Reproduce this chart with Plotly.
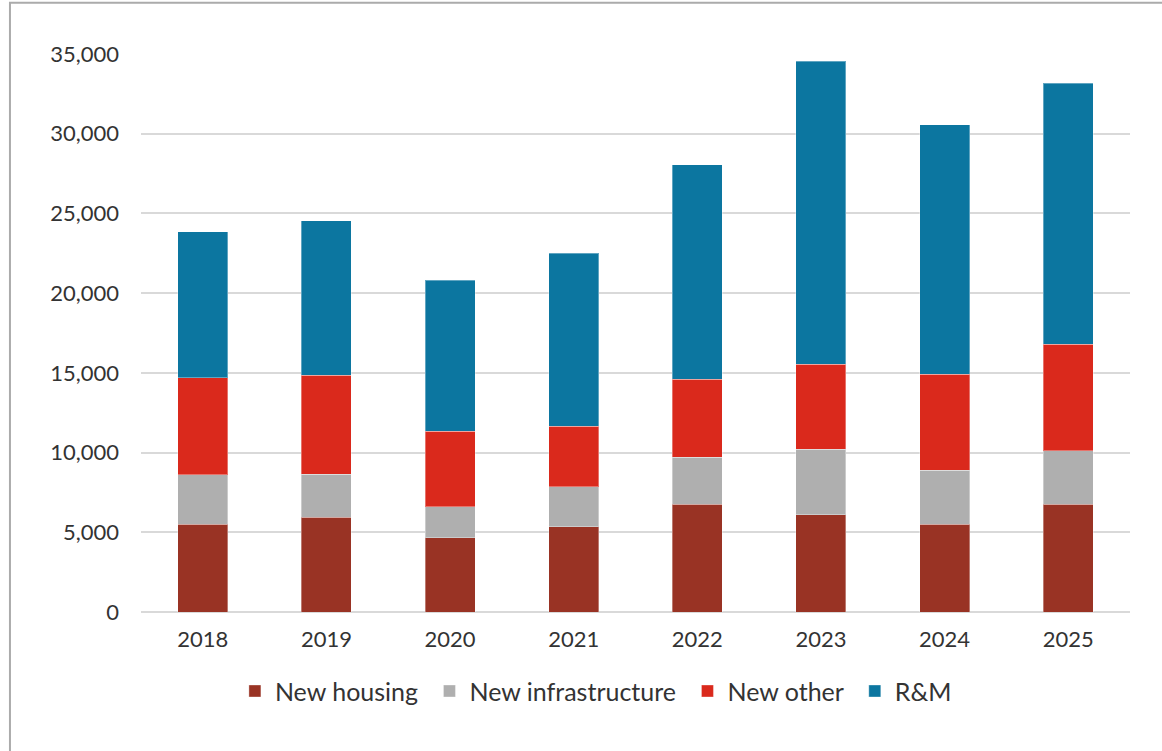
import plotly.graph_objects as go

years = ["2018", "2019", "2020", "2021", "2022", "2023", "2024", "2025"]
new_housing = [5500, 5950, 4650, 5350, 6750, 6100, 5500, 6750]
new_infrastructure = [3100, 2700, 1950, 2500, 2950, 4100, 3400, 3350]
new_other = [6100, 6200, 4750, 3800, 4900, 5350, 6000, 6700]
rm = [9150, 9700, 9450, 10850, 13450, 19000, 15650, 16350]

y_ticks = [0, 5000, 10000, 15000, 20000, 25000, 30000, 35000]

series = [
    ("New housing", new_housing, "#993324"),
    ("New infrastructure", new_infrastructure, "#AFAFAF"),
    ("New other", new_other, "#DA291C"),
    ("R&M", rm, "#0C76A0"),
]

FONT = "Lato"
PAD = "\u00a0"

fig = go.Figure()
for name, vals, color in series:
    fig.add_trace(go.Bar(
        x=years, y=vals, name=name + PAD,
        marker=dict(color=color, line=dict(color="rgba(255,255,255,0.35)", width=1)),
    ))

fig.update_layout(
    barmode="stack",
    bargap=0.595,
    width=1162, height=751,
    margin=dict(l=141, r=32, t=54, b=139),
    plot_bgcolor="white", paper_bgcolor="white",
    font=dict(family=FONT, size=22, color="#333333"),
    showlegend=True,
    legend=dict(
        orientation="h", x=0.463, xanchor="center", y=-0.142, yanchor="middle",
        font=dict(family=FONT, size=25, color="#333333"),
        itemwidth=30, traceorder="normal",
    ),
    xaxis=dict(
        type="category", showgrid=False, showline=False, ticks="",
        tickfont=dict(family=FONT, size=22, color="#333333"),
        ticklabelstandoff=12,
    ),
    yaxis=dict(
        range=[0, 35000], tickvals=y_ticks,
        ticktext=[f"{v:,}" for v in y_ticks],
        showgrid=True, gridcolor="#D9D9D9", gridwidth=1.5,
        zeroline=True, zerolinecolor="#D9D9D9", zerolinewidth=1.5,
        showline=False, ticks="",
        tickfont=dict(family=FONT, size=22, color="#333333"),
        ticklabelstandoff=21,
    ),
    shapes=[dict(
        type="rect", xref="paper", yref="paper",
        x0=-0.1325, x1=1.1, y0=-0.4, y1=1.0919,
        line=dict(color="#ABABAB", width=2), fillcolor="rgba(0,0,0,0)",
        layer="below",
    )],
)

fig.write_html(
    "out.html",
    config={"displayModeBar": False},
    post_script="document.body.style.margin='0px';",
)
